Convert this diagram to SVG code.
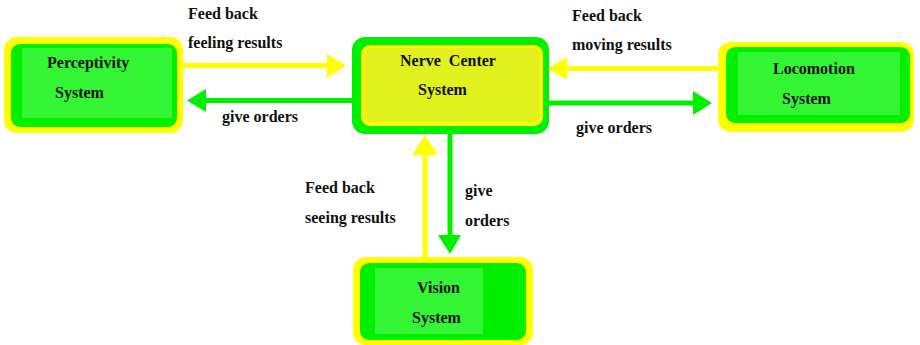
<svg xmlns="http://www.w3.org/2000/svg" width="920" height="345" viewBox="0 0 920 345">
<style>
text{font-family:"Liberation Serif","Times New Roman",serif;font-weight:bold;font-size:16px;fill:#111}
.outerY{fill:#ffff00}
.band{fill:#00f000}
.light{fill:#33f533}
.ly{stroke:#ffff00;stroke-width:5;fill:none}
.lg{stroke:#00f000;stroke-width:5;fill:none}
.hy{fill:#ffff00}
.hg{fill:#00f000}
</style>
<rect width="920" height="345" fill="#ffffff"/>
<g id="perceptivity">
<rect class="outerY" x="4" y="37" width="179" height="96" rx="13"/>
<rect class="band" x="11" y="44" width="166" height="83" rx="9"/>
<rect class="light" x="22" y="48" width="150" height="70"/>
<text x="47" y="68">Perceptivity</text>
<text x="55" y="98">System</text>
</g>
<g id="nerve">
<rect fill="#00f000" x="352" y="37" width="197" height="97" rx="13"/>
<rect fill="#ffff00" x="361" y="45" width="182" height="81" rx="9"/>
<rect fill="#e2f01e" x="364" y="48" width="176" height="74" rx="6"/>
<text x="400" y="66" xml:space="preserve">Nerve  Center</text>
<text x="418" y="95">System</text>
</g>
<g id="locomotion">
<rect class="outerY" x="718" y="42" width="196" height="90" rx="13"/>
<rect class="band" x="726" y="47" width="184" height="76" rx="9"/>
<rect class="light" x="738" y="52" width="162" height="63"/>
<text x="773" y="74">Locomotion</text>
<text x="782" y="104">System</text>
</g>
<g id="vision">
<rect class="outerY" x="353" y="257" width="180" height="88" rx="13"/>
<rect class="band" x="360" y="263" width="166" height="77" rx="9"/>
<rect class="light" x="375" y="268" width="108" height="66"/>
<text x="417" y="293">Vision</text>
<text x="412" y="323">System</text>
</g>
<g id="connectors">
<line class="ly" x1="183" y1="65.5" x2="330" y2="65.5"/>
<polygon class="hy" points="327,54 346,65.5 327,78"/>
<line class="lg" x1="203" y1="100.5" x2="353" y2="100.5"/>
<polygon class="hg" points="206,89 187,100.5 206,112"/>
<line class="ly" x1="564" y1="68.5" x2="718" y2="68.5"/>
<polygon class="hy" points="567,57 548,68.5 567,80"/>
<line class="lg" x1="549" y1="103" x2="696" y2="103"/>
<polygon class="hg" points="693,91 712,103 693,115"/>
<line class="ly" x1="425" y1="152" x2="425" y2="257"/>
<polygon class="hy" points="412,155 425,135 438,155"/>
<line class="lg" x1="450" y1="133" x2="450" y2="238"/>
<polygon class="hg" points="438,235 450,254 461,235"/>
</g>
<g id="labels">
<text x="188" y="19">Feed back</text>
<text x="188" y="48">feeling results</text>
<text x="222" y="122">give orders</text>
<text x="572" y="21">Feed back</text>
<text x="572" y="50">moving results</text>
<text x="576" y="133">give orders</text>
<text x="305" y="193">Feed back</text>
<text x="305" y="223">seeing results</text>
<text x="465" y="196">give</text>
<text x="465" y="226">orders</text>
</g>
</svg>
